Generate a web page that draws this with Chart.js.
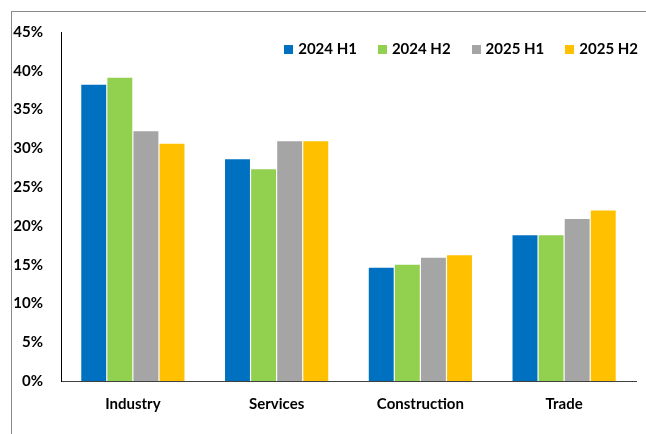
<!DOCTYPE html>
<html>
<head>
<meta charset="utf-8">
<script src="https://cdn.jsdelivr.net/npm/chart.js@4/dist/chart.umd.min.js"></script>
<style>
  html, body { margin: 0; padding: 0; background: #ffffff; }
  #wrap { width: 646px; height: 434px; position: relative; }
</style>
</head>
<body>
<div id="wrap"><canvas id="chart" width="646" height="434"></canvas></div>
<script>
// Sector shares by half-year, in percent
const categories = ['Industry', 'Services', 'Construction', 'Trade'];
const seriesNames = ['2024 H1', '2024 H2', '2025 H1', '2025 H2'];
const values2024H1 = [38.2, 28.6, 14.6, 18.8];
const values2024H2 = [39.1, 27.3, 15.0, 18.8];
const values2025H1 = [32.2, 30.9, 15.9, 20.9];
const values2025H2 = [30.6, 30.9, 16.2, 22.0];
const yTicks = [0, 5, 10, 15, 20, 25, 30, 35, 40, 45];

const seriesColors = ['#0070C0', '#92D050', '#A5A5A5', '#FFC000'];
const FONT = 'Lato, "Liberation Sans", sans-serif';

const allValues = [values2024H1, values2024H2, values2025H1, values2025H2];
const datasets = seriesNames.map((name, i) => ({
  label: name,
  data: allValues[i],
  backgroundColor: seriesColors[i],
  borderWidth: 0,
  categoryPercentage: 0.726,
  barPercentage: 0.955
}));

// Outer frame line and the legend row inside the plot
const framePlugin = {
  id: 'frame',
  beforeDraw(chart) {
    const ctx = chart.ctx;
    ctx.save();
    ctx.fillStyle = '#ffffff';
    ctx.fillRect(0, 0, chart.width, chart.height);
    ctx.fillStyle = '#8a8a8a';
    ctx.fillRect(11, 11, chart.width - 11, 1);
    ctx.fillRect(11, 11, 1, chart.height - 11);
    ctx.restore();
  },
  afterDraw(chart) {
    const ctx = chart.ctx;
    ctx.save();
    ctx.font = 'bold 15px ' + FONT;
    ctx.textBaseline = 'middle';
    const box = 9, boxGap = 5, itemGap = 21;
    const rightEdge = 638, cy = 49.5;
    const items = chart.data.datasets.map(d => ({
      label: d.label, color: d.backgroundColor, w: ctx.measureText(d.label).width
    }));
    let total = items.reduce((s, it) => s + box + boxGap + it.w, 0) + itemGap * (items.length - 1);
    let x = rightEdge - total;
    items.forEach(it => {
      ctx.fillStyle = it.color;
      ctx.fillRect(Math.round(x), Math.round(cy - box / 2), box, box);
      ctx.fillStyle = '#000000';
      ctx.fillText(it.label, x + box + boxGap, cy);
      x += box + boxGap + it.w + itemGap;
    });
    ctx.restore();
  }
};

new Chart(document.getElementById('chart'), {
  type: 'bar',
  data: { labels: categories, datasets: datasets },
  options: {
    responsive: false,
    animation: false,
    devicePixelRatio: 1,
    layout: { padding: { top: 32, right: 10, bottom: 0, left: 0 } },
    plugins: {
      legend: { display: false },
      tooltip: { enabled: false }
    },
    scales: {
      x: {
        grid: { display: false, drawTicks: false },
        border: { display: true, color: '#404040', width: 1 },
        ticks: {
          color: '#000000',
          font: { family: FONT, size: 15, weight: 'bold' },
          padding: 14,
          maxRotation: 0
        },
        afterFit(scale) { scale.height = 53; }
      },
      y: {
        min: 0,
        max: 45,
        grid: { display: false, drawTicks: false },
        border: { display: true, color: '#000000', width: 1 },
        afterBuildTicks(scale) { scale.ticks = yTicks.map(v => ({ value: v })); },
        ticks: {
          color: '#000000',
          font: { family: FONT, size: 15, weight: 'bold' },
          padding: 18,
          callback: v => v + '%'
        },
        afterFit(scale) { scale.width = 61; }
      }
    }
  },
  plugins: [framePlugin]
});
</script>
</body>
</html>
